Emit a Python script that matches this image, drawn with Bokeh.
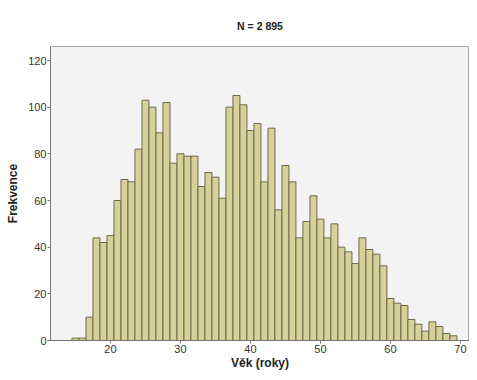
from bokeh.plotting import figure
from bokeh.embed import file_html
from bokeh.resources import INLINE
from bokeh.models import FixedTicker, Range1d

ages = list(range(15, 70))
counts = [1, 1, 10, 44, 42, 45, 60, 69, 68, 82, 103, 100, 89, 102, 76, 80, 79, 79,
          66, 72, 70, 61, 100, 105, 101, 90, 93, 68, 91, 56, 75, 68, 44, 51, 62, 52,
          44, 50, 40, 38, 33, 44, 39, 37, 32, 18, 16, 15, 9, 7, 4, 8, 6, 3, 2]
title_text = "N = 2 895"
x_label = "Věk (roky)"
y_label = "Frekvence"
x_ticks = [20, 30, 40, 50, 60, 70]
y_ticks = [0, 20, 40, 60, 80, 100, 120]

p = figure(width=469, height=372, output_backend="svg", toolbar_location=None,
           x_range=Range1d(11.43, 71.3), y_range=Range1d(0, 126),
           min_border_left=50, min_border_right=0, min_border_top=46, min_border_bottom=29)

p.quad(left=[a - 0.5 for a in ages], right=[a + 0.5 for a in ages], bottom=0, top=counts,
       fill_color="#d6d19a", line_color="#6e6a48", line_width=1)

p.title.text = title_text
p.title.align = "center"
p.title.vertical_align = "top"
p.title.text_font = "Liberation Sans"
p.title.text_font_size = "10.5px"
p.title.text_font_style = "bold"
p.title.text_color = "#222222"
p.title.standoff = 26

p.background_fill_color = "#f3f3f3"
p.border_fill_color = "white"
p.outline_line_color = "#aaaaaa"
p.outline_line_width = 1
p.grid.visible = False

p.xaxis.ticker = FixedTicker(ticks=x_ticks)
p.yaxis.ticker = FixedTicker(ticks=y_ticks)
p.xaxis.axis_label = x_label
p.yaxis.axis_label = y_label
for ax in (p.xaxis, p.yaxis):
    ax.axis_label_text_font = "Liberation Sans"
    ax.axis_label_text_font_size = "12px"
    ax.axis_label_text_font_style = "bold"
    ax.axis_label_text_color = "#222222"
    ax.major_label_text_font = "Liberation Sans"
    ax.major_label_text_font_size = "11px"
    ax.major_label_text_color = "#333333"
    ax.axis_line_color = "#777777"
    ax.major_tick_line_color = "#777777"
    ax.major_tick_out = 3
    ax.major_tick_in = 0
    ax.minor_tick_line_color = None
p.xaxis.axis_label_standoff = 0
p.yaxis.axis_label_standoff = 5
p.xaxis.major_label_standoff = 1
p.yaxis.major_label_standoff = 1

open("out.html", "w").write(file_html(p, INLINE))
